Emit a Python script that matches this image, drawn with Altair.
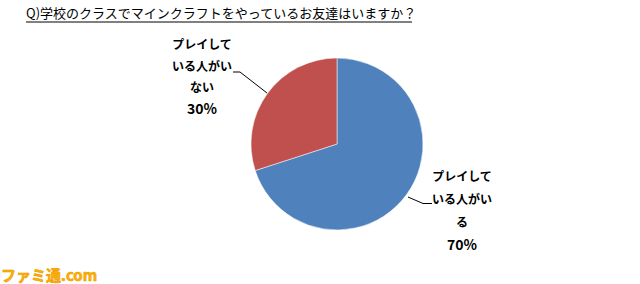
import altair as alt
import pandas as pd

categories = ["プレイしている人がいる", "プレイしている人がいない"]
values = [70, 30]
colors = ["#4F81BD", "#C0504D"]
label_lines = [["プレイして", "いる人がい", "る", "70%"], ["プレイして", "いる人がい", "ない", "30%"]]

title_text = "Q)学校のクラスでマインクラフトをやっているお友達はいますか？"
FONT = "Noto Sans CJK JP"

df = pd.DataFrame({"cat": categories, "value": values, "order": [0, 1]})

W, H = 640, 284
cx, cy, R = 337, 144, 86

pie = alt.Chart(df).mark_arc(stroke="white", strokeWidth=0.5).encode(
    theta=alt.Theta("value:Q", stack=True),
    order=alt.Order("order:Q"),
    color=alt.Color("cat:N", scale=alt.Scale(domain=categories, range=colors), legend=None),
    x=alt.value(cx), y=alt.value(cy),
    radius=alt.value(R),
)

# labels
lab_rows = []
anchors = [(462, 177, 23), (202, 45, 21.5)]
for (ax, ay, step), lines in zip(anchors, label_lines):
    for i, t in enumerate(lines):
        lab_rows.append({"t": t, "px": ax, "py": ay + i * step, "fs": 14 if "%" in t else 12})
labels = alt.Chart(pd.DataFrame(lab_rows)).mark_text(
    font=FONT, fontWeight="bold", color="#000000", align="center", baseline="middle"
).encode(x=alt.X("px:Q", scale=None), y=alt.Y("py:Q", scale=None), text="t:N",
         size=alt.Size("fs:Q", scale=None, legend=None))

# leader lines
leader_rows = [
    {"g": "a", "px": 408, "py": 197, "o": 0}, {"g": "a", "px": 423, "py": 203.5, "o": 1}, {"g": "a", "px": 432, "py": 203.5, "o": 2},
    {"g": "b", "px": 233, "py": 72, "o": 0}, {"g": "b", "px": 240, "py": 72, "o": 1}, {"g": "b", "px": 267, "py": 93, "o": 2},
]
leaders = alt.Chart(pd.DataFrame(leader_rows)).mark_line(color="#000000", strokeWidth=1).encode(
    x=alt.X("px:Q", scale=None), y=alt.Y("py:Q", scale=None), detail="g:N", order="o:Q"
)

title = alt.Chart(pd.DataFrame({"t": [title_text]})).mark_text(
    font=FONT, fontSize=13, color="#000000", align="left", baseline="alphabetic"
).encode(x=alt.value(26), y=alt.value(18), text="t:N")

underline = alt.Chart(pd.DataFrame({"a": [0]})).mark_rule(color="#808080", strokeWidth=2).encode(
    x=alt.value(26), x2=alt.value(412), y=alt.value(22)
)

wm = alt.Chart(pd.DataFrame({"t": ["ファミ通.com"]})).mark_text(
    font=FONT, fontSize=15, fontWeight="bold", color="#F7B400", stroke="#F39800", strokeWidth=0.6,
    align="left", baseline="alphabetic"
).encode(x=alt.value(1), y=alt.value(281), text="t:N")

chart = alt.layer(pie, leaders, labels, underline, title, wm).properties(
    width=W, height=H, autosize=alt.AutoSizeParams(type="none"), padding=0, background="white"
).configure_view(stroke=None)

chart.save("out.html", embed_options={"renderer": "svg", "actions": False})
